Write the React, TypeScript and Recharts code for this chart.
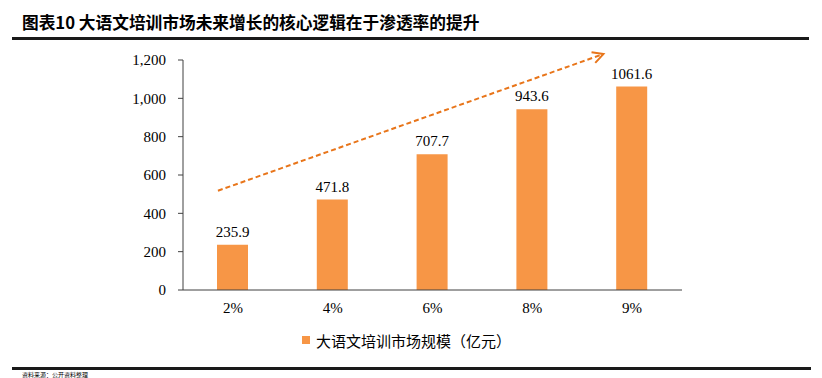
import React from 'react';
import { BarChart, Bar, XAxis, YAxis, LabelList, ReferenceLine } from 'recharts';

const categories = ['2%', '4%', '6%', '8%', '9%'];
const marketSize = [235.9, 471.8, 707.7, 943.6, 1061.6];
const yTicks = [0, 200, 400, 600, 800, 1000, 1200];
const seriesName = '大语文培训市场规模（亿元）';
const title = '图表10 大语文培训市场未来增长的核心逻辑在于渗透率的提升';
const source = '资料来源：公开资料整理';
// trend arrow in (position 0..4 across plot, value) space
const arrowStart = { x: 0.28, y: 518 };
const arrowEnd = { x: 3.37, y: 1231 };

const data = categories.map((c, i) => ({ name: c, value: marketSize[i] }));

const SERIF = '"Liberation Serif", "Times New Roman", serif';
const CJK = '"Noto Sans CJK SC", sans-serif';
const BAR = '#F79646';
const ARROW = '#E8751A';

const ArrowShape = (props: any) => {
  const { x1, y1, x2, y2 } = props;
  const ang = Math.atan2(y2 - y1, x2 - x1);
  const len = 12;
  const spread = Math.PI / 6.5;
  const ax1 = x2 - len * Math.cos(ang - spread);
  const ay1 = y2 - len * Math.sin(ang - spread);
  const ax2 = x2 - len * Math.cos(ang + spread);
  const ay2 = y2 - len * Math.sin(ang + spread);
  return (
    <g>
      <line x1={x1} y1={y1} x2={x2} y2={y2} stroke={ARROW} strokeWidth={2} strokeDasharray="5 3" />
      <polyline points={`${ax1},${ay1} ${x2},${y2} ${ax2},${ay2}`} fill="none" stroke={ARROW} strokeWidth={2} />
    </g>
  );
};

export default function App() {
  return (
    <div style={{ position: 'absolute', left: 0, top: 0, width: 822, height: 378, overflow: 'hidden', background: '#fff' }}>
      <div style={{ position: 'absolute', left: 22, top: 12, fontFamily: CJK, fontWeight: 700, fontSize: 16.7, lineHeight: '20px', color: '#000', whiteSpace: 'nowrap' }}>
        {title}
      </div>
      <div style={{ position: 'absolute', left: 12, top: 37, width: 797, height: 3, background: '#1a1a1a' }} />
      <BarChart
        width={822}
        height={378}
        data={data}
        margin={{ top: 60, right: 140, bottom: 58, left: 0 }}
        barSize={31}
      >
        <XAxis
          dataKey="name"
          tickLine={false}
          axisLine={{ stroke: '#404040' }}
          tickSize={5}
          tickMargin={7}
          tick={{ fill: '#000', fontSize: 15, fontFamily: SERIF }}
          interval={0}
        />
        <XAxis xAxisId="arrow" type="number" domain={[0, 4]} allowDataOverflow hide />
        <YAxis
          width={183}
          domain={[0, 1200]}
          ticks={yTicks}
          interval={0}
          tickSize={5}
          tickMargin={12}
          axisLine={{ stroke: '#404040' }}
          tickLine={{ stroke: '#404040' }}
          tick={{ fill: '#000', fontSize: 15, fontFamily: SERIF }}
          tickFormatter={(v: number) => v.toLocaleString('en-US')}
        />
        <Bar dataKey="value" fill={BAR} isAnimationActive={false}>
          <LabelList
            dataKey="value"
            position="top"
            offset={8}
            formatter={(v: any) => Number(v).toFixed(1)}
            style={{ fill: '#000', fontSize: 15, fontFamily: SERIF }}
          />
        </Bar>
        <ReferenceLine
          xAxisId="arrow"
          segment={[arrowStart, arrowEnd]}
          ifOverflow="visible"
          shape={ArrowShape}
        />
      </BarChart>
      <div style={{ position: 'absolute', left: 302, top: 336, width: 8, height: 8, background: BAR }} />
      <div style={{ position: 'absolute', left: 316, top: 331, fontFamily: CJK, fontSize: 15, lineHeight: '20px', color: '#000', whiteSpace: 'nowrap' }}>
        {seriesName}
      </div>
      <div style={{ position: 'absolute', left: 12, top: 367, width: 799, height: 3, background: '#1a1a1a' }} />
      <div style={{ position: 'absolute', left: 22, top: 371, fontFamily: CJK, fontSize: 6, lineHeight: '7px', color: '#000', whiteSpace: 'nowrap' }}>
        {source}
      </div>
    </div>
  );
}
